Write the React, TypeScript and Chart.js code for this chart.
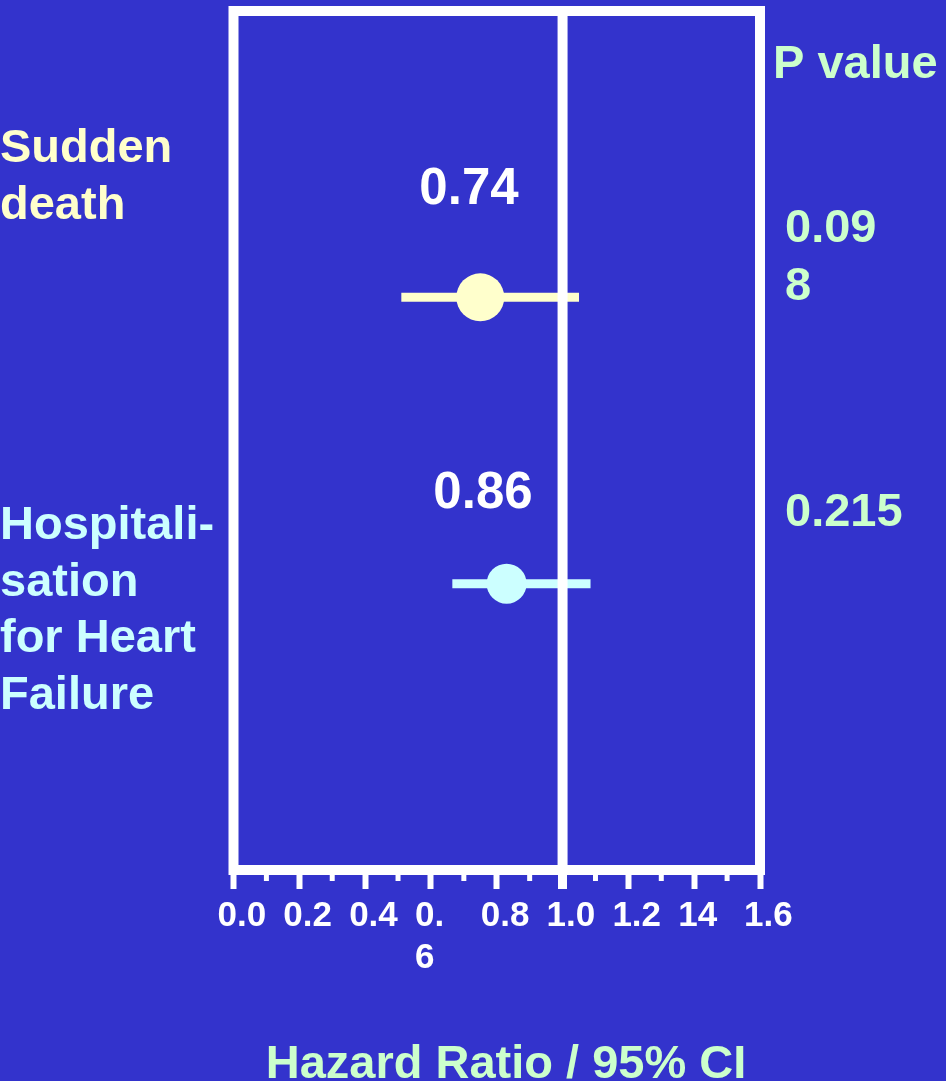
import React, { useEffect, useRef } from "react";
import { Chart, registerables } from "chart.js";

Chart.register(...registerables);

// ---- Data ----
const outcomeLines: string[][] = [
  ["Sudden", "death"],
  ["Hospitali-", "sation", "for Heart", "Failure"],
];
const hazardRatios = [0.75, 0.83];
const ciLower = [0.51, 0.665];
const ciUpper = [1.05, 1.085];
const hrLabels = ["0.74", "0.86"];
const pValueHeader = "P value";
const pValueLines: string[][] = [["0.09", "8"], ["0.215"]];
const tickValues = [0, 0.2, 0.4, 0.6, 0.8, 1.0, 1.2, 1.4, 1.6];
const tickLabels: (string | string[])[] = ["0.0", "0.2", "0.4", ["0.", "6"], "0.8", "1.0", "1.2", "14", "1.6"];
const minorTickValues = [0.1, 0.3, 0.5, 0.7, 0.9, 1.1, 1.3, 1.5];
const referenceValue = 1.0;
const axisTitle = "Hazard Ratio / 95% CI";

// ---- Styles ----
const BG = "#3333CC";
const rowColors = ["#FFFFCC", "#CCFFFF"];
const pColor = "#CCFFCC";
const pointRadii = [24, 20];
const FONT = '"Liberation Sans", Arial, Helvetica, sans-serif';
const W = 946;
const H = 1081;

export default function App() {
  const ref = useRef<HTMLCanvasElement | null>(null);

  useEffect(() => {
    document.body.style.margin = "0";
    document.body.style.background = BG;
    const canvas = ref.current;
    if (!canvas) return;

    const datasets: any[] = [];
    hazardRatios.forEach((hr, i) => {
      datasets.push({
        type: "scatter",
        showLine: true,
        data: [
          { x: ciLower[i], y: i + 1 },
          { x: ciUpper[i], y: i + 1 },
        ],
        borderColor: rowColors[i],
        borderWidth: 9,
        borderCapStyle: "butt",
        pointRadius: 0,
        pointHoverRadius: 0,
      });
      datasets.push({
        type: "scatter",
        data: [{ x: hr, y: i + 1 }],
        backgroundColor: rowColors[i],
        borderWidth: 0,
        pointRadius: pointRadii[i],
        pointHoverRadius: pointRadii[i],
      });
    });

    const bgPlugin = {
      id: "bg",
      beforeDraw(chart: any) {
        const c = chart.ctx;
        c.save();
        c.fillStyle = BG;
        c.fillRect(0, 0, chart.width, chart.height);
        c.restore();
      },
    };

    const framePlugin = {
      id: "frame",
      afterDatasetsDraw(chart: any) {
        const c = chart.ctx;
        const a = chart.chartArea;
        const xs = chart.scales.x;
        c.save();
        c.strokeStyle = "#FFFFFF";
        // reference line at HR = 1
        const rx = xs.getPixelForValue(referenceValue);
        c.lineWidth = 10;
        c.beginPath();
        c.moveTo(rx, a.top);
        c.lineTo(rx, a.bottom);
        c.stroke();
        // box
        c.lineWidth = 10;
        c.strokeRect(a.left, a.top, a.right - a.left, a.bottom - a.top);
        // minor ticks
        c.lineWidth = 5;
        minorTickValues.forEach((v) => {
          const px = xs.getPixelForValue(v);
          c.beginPath();
          c.moveTo(px, a.bottom);
          c.lineTo(px, a.bottom + 11);
          c.stroke();
        });
        c.restore();
      },
    };

    const textPlugin = {
      id: "texts",
      afterDraw(chart: any) {
        const c = chart.ctx;
        c.save();
        c.textBaseline = "alphabetic";
        // outcome labels
        const catBaselines = [162, 539];
        const lineH = 56.5;
        c.font = `bold 47px ${FONT}`;
        c.textAlign = "left";
        outcomeLines.forEach((lines, i) => {
          c.fillStyle = rowColors[i];
          lines.forEach((t, j) => c.fillText(t, 0, catBaselines[i] + j * lineH));
        });
        // HR value labels
        const hrPos = [
          [469, 204],
          [483, 508],
        ];
        c.font = `bold 51px ${FONT}`;
        c.textAlign = "center";
        c.fillStyle = "#FFFFFF";
        hrLabels.forEach((t, i) => c.fillText(t, hrPos[i][0], hrPos[i][1]));
        // p values
        c.font = `bold 47px ${FONT}`;
        c.textAlign = "left";
        c.fillStyle = pColor;
        c.fillText(pValueHeader, 773, 78);
        const pBaselines = [242, 526];
        pValueLines.forEach((lines, i) => {
          lines.forEach((t, j) => c.fillText(t, 785, pBaselines[i] + j * 58));
        });
        // axis title
        c.textAlign = "center";
        c.fillText(axisTitle, 506, 1078);
        c.restore();
      },
    };

    const chart = new Chart(canvas, {
      type: "scatter",
      data: { datasets },
      options: {
        animation: false,
        responsive: false,
        devicePixelRatio: 1,
        events: [],
        layout: { autoPadding: false, padding: { left: 233.5, right: 186, top: 11, bottom: 0 } },
        plugins: {
          legend: { display: false },
          tooltip: { enabled: false },
        },
        scales: {
          x: {
            type: "linear",
            min: 0,
            max: 1.6,
            afterBuildTicks: (scale: any) => {
              scale.ticks = tickValues.map((v) => ({ value: v }));
            },
            afterFit: (scale: any) => {
              scale.height = 211;
            },
            border: { display: false },
            grid: {
              display: true,
              drawOnChartArea: false,
              drawTicks: true,
              tickLength: 19,
              color: "#FFFFFF",
              tickColor: "#FFFFFF",
              tickWidth: (ctx: any) => (ctx.tick && Math.abs(ctx.tick.value - referenceValue) < 1e-6 ? 9 : 6),
            },
            ticks: {
              autoSkip: false,
              maxRotation: 0,
              minRotation: 0,
              align: "start",
              labelOffset: -16,
              padding: 6,
              color: "#FFFFFF",
              font: { family: FONT, size: 35, weight: "bold", lineHeight: 1.2 },
              callback: (_v: any, i: number) => tickLabels[i],
            },
          },
          y: {
            type: "linear",
            display: false,
            min: 0,
            max: 3,
            reverse: true,
          },
        },
      },
      plugins: [bgPlugin, framePlugin, textPlugin],
    } as any);

    return () => chart.destroy();
  }, []);

  return (
    <div style={{ position: "fixed", left: 0, top: 0, width: W, height: H, background: BG }}>
      <canvas ref={ref} width={W} height={H} style={{ width: W, height: H, display: "block" }} />
    </div>
  );
}
